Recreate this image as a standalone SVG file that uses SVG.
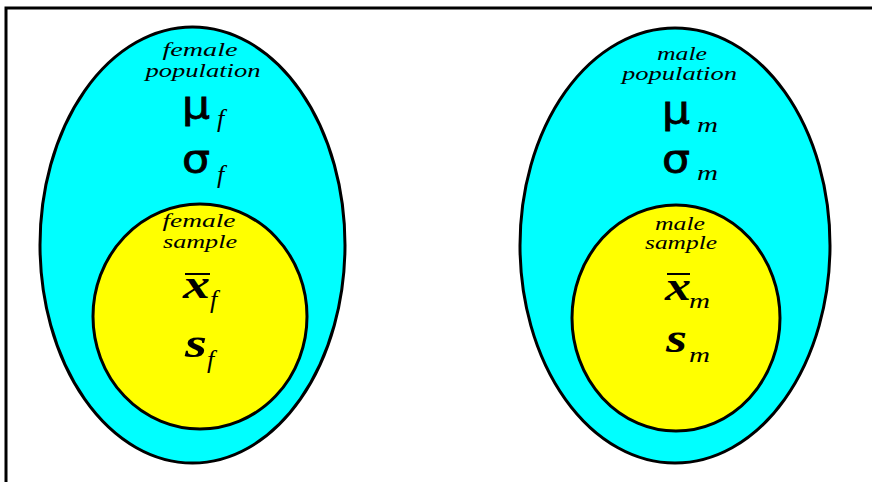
<svg xmlns="http://www.w3.org/2000/svg" width="872" height="482" viewBox="0 0 872 482">
<style>
.pop{fill:#00FFFF;stroke:#000;stroke-width:3}
.smp{fill:#FFFF00;stroke:#000;stroke-width:3}
.lbl{font-family:"Liberation Serif",serif;font-style:italic;font-size:19px;fill:#000}
.greek{font-family:"DejaVu Sans",sans-serif;font-size:38px;fill:#000;stroke:#000;stroke-width:0.8}
.var{font-family:"Liberation Serif",serif;font-style:italic;font-weight:bold;font-size:42px;fill:#000}
.sub{font-family:"Liberation Serif",serif;font-style:italic;font-size:26px;fill:#000}
.subm{font-family:"Liberation Serif",serif;font-style:italic;font-size:22px;fill:#000}
.bar{stroke:#000;stroke-width:2}
</style>
<rect width="872" height="482" fill="#fff"/>
<path d="M6,482 V8 H872" fill="none" stroke="#000" stroke-width="3"/>
<g id="female-population">
<ellipse class="pop" cx="192.5" cy="245" rx="152.5" ry="218"/>
<text class="lbl" x="200" y="56" text-anchor="middle" textLength="75" lengthAdjust="spacingAndGlyphs">female</text>
<text class="lbl" x="203" y="77" text-anchor="middle" textLength="115" lengthAdjust="spacingAndGlyphs">population</text>
<text class="greek" x="182" y="118" textLength="28" lengthAdjust="spacingAndGlyphs">μ</text>
<text class="sub" x="217" y="127">f</text>
<text class="greek" x="182" y="172" textLength="28" lengthAdjust="spacingAndGlyphs">σ</text>
<text class="sub" x="217" y="183">f</text>
</g>
<g id="female-sample">
<ellipse class="smp" cx="200" cy="316.5" rx="107" ry="112.5"/>
<text class="lbl" x="199" y="227" text-anchor="middle" textLength="73" lengthAdjust="spacingAndGlyphs">female</text>
<text class="lbl" x="200" y="248" text-anchor="middle" textLength="74" lengthAdjust="spacingAndGlyphs">sample</text>
<line class="bar" x1="185" y1="274" x2="210" y2="274"/>
<text class="var" x="183" y="298" textLength="27" lengthAdjust="spacingAndGlyphs">x</text>
<text class="sub" x="210" y="308">f</text>
<text class="var" x="185" y="357" textLength="22" lengthAdjust="spacingAndGlyphs">s</text>
<text class="sub" x="207" y="368">f</text>
</g>
<g id="male-population">
<ellipse class="pop" cx="675" cy="245.5" rx="155" ry="217.5"/>
<text class="lbl" x="682" y="60" text-anchor="middle" textLength="50" lengthAdjust="spacingAndGlyphs">male</text>
<text class="lbl" x="679.5" y="80" text-anchor="middle" textLength="115" lengthAdjust="spacingAndGlyphs">population</text>
<text class="greek" x="662" y="123" textLength="28" lengthAdjust="spacingAndGlyphs">μ</text>
<text class="subm" x="697" y="132" textLength="21" lengthAdjust="spacingAndGlyphs">m</text>
<text class="greek" x="662" y="172" textLength="28" lengthAdjust="spacingAndGlyphs">σ</text>
<text class="subm" x="697" y="180" textLength="21" lengthAdjust="spacingAndGlyphs">m</text>
</g>
<g id="male-sample">
<ellipse class="smp" cx="676" cy="318" rx="104" ry="113"/>
<text class="lbl" x="680" y="230" text-anchor="middle" textLength="50" lengthAdjust="spacingAndGlyphs">male</text>
<text class="lbl" x="681" y="249" text-anchor="middle" textLength="72" lengthAdjust="spacingAndGlyphs">sample</text>
<line class="bar" x1="667" y1="274" x2="690" y2="274"/>
<text class="var" x="665" y="300" textLength="26" lengthAdjust="spacingAndGlyphs">x</text>
<text class="subm" x="689" y="308" textLength="21" lengthAdjust="spacingAndGlyphs">m</text>
<text class="var" x="666" y="352" textLength="21" lengthAdjust="spacingAndGlyphs">s</text>
<text class="subm" x="689" y="362" textLength="21" lengthAdjust="spacingAndGlyphs">m</text>
</g>
</svg>
